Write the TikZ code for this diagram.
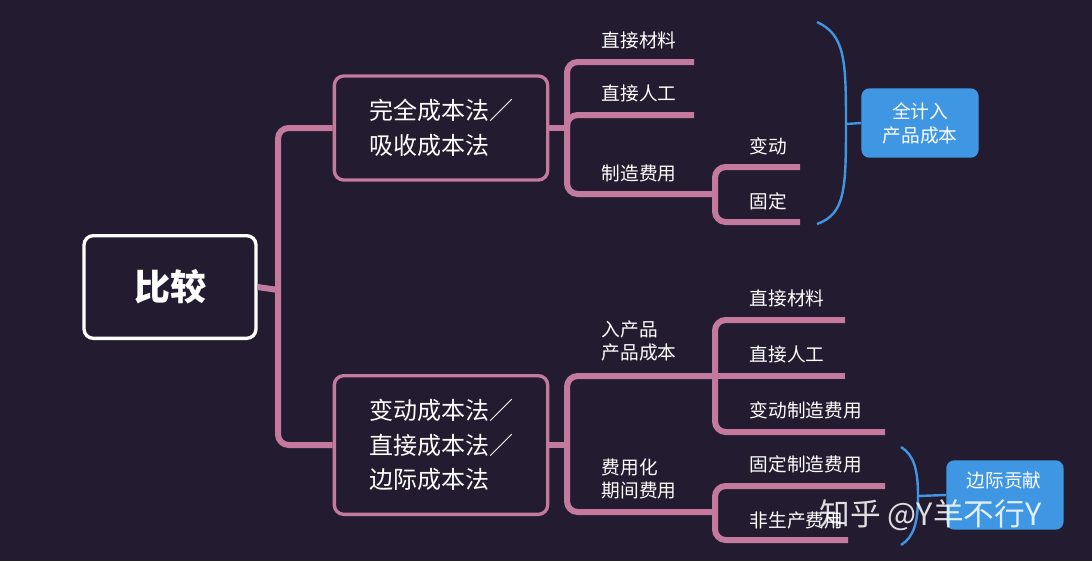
\documentclass[tikz,border=0pt]{standalone}
\usepackage{fontspec}
\setmainfont{Noto Sans CJK SC}
\usetikzlibrary{positioning}
\definecolor{bg}{HTML}{231C30}
\definecolor{pk}{HTML}{C47A9E}
\definecolor{bl}{HTML}{3F97E3}
\tikzset{
 br/.style={draw=pk,line width=4.5pt,rounded corners=8pt},
 lbl/.style={text=white,font=\fontsize{14}{17}\selectfont,anchor=west,align=left},
 mbox/.style={draw=pk,line width=2.5pt,rounded corners=7pt,text=white,font=\fontsize{18}{26}\selectfont,align=left,minimum width=160pt},
 bbox/.style={fill=bl,rounded corners=6pt,text=white,font=\fontsize{14}{18}\selectfont,align=center},
 brace/.style={draw=bl,line width=1.8pt},
}
\begin{document}
\begin{tikzpicture}[x=0.75pt,y=-0.75pt]
\fill[bg] (0,0) rectangle (1092,561);
\useasboundingbox (0,0) rectangle (1092,561);
% root
\node[draw=white,line width=2.5pt,rounded corners=7pt,minimum width=129pt,minimum height=77pt,text=white,font=\fontsize{27}{30}\selectfont\bfseries] (root) at (170,287) {比较};
\node[mbox,minimum height=78pt] (b1) at (441,128) {完全成本法／\\吸收成本法};
\node[mbox,minimum height=104pt] (b2) at (441,445) {变动成本法／\\直接成本法／\\边际成本法};
\coordinate (j0) at (278,290);
\draw[br] (root.east) -- (j0);
\draw[br] (b1.west) -| (j0) |- (b2.west);
% branch 1
\coordinate (j1) at (567,128);
\coordinate (e11) at (694,62);
\coordinate (e12) at (694,115);
\coordinate (e13) at (715,194);
\draw[br] (b1.east) -- (j1);
\draw[br] (e11) -| (j1) |- (e13);
\draw[br] (j1) |- (e12);
\node[lbl] (t11) at (597,40) {直接材料};
\node[lbl] (t12) at (597,93) {直接人工};
\node[lbl] (t13) at (597,173) {制造费用};
\coordinate (e131) at (800,167);
\coordinate (e132) at (800,222);
\draw[br] (e131) -| (e13) |- (e132);
\node[lbl] (t131) at (745,146) {变动};
\node[lbl] (t132) at (745,201) {固定};
\draw[brace] (817,22) .. controls (845,35) and (846,60) .. (846,124) .. controls (846,190) and (845,214) .. (817,224);
\coordinate (k1) at (846,124);
\node[bbox,minimum width=88pt,minimum height=52pt] (bb1) at (920,123) {全计入\\产品成本};
\draw[brace] (k1) -- (bb1.west);
% branch 2
\coordinate (j2) at (567,445);
\coordinate (e21) at (715,376);
\coordinate (e22) at (715,512);
\draw[br] (b2.east) -- (j2);
\draw[br] (e21) -| (j2) |- (e22);
\node[lbl] (t21) at (597,341) {入产品\\产品成本};
\node[lbl] (t22) at (597,479) {费用化\\期间费用};
\coordinate (f1) at (845,320);
\coordinate (f2) at (845,376);
\coordinate (f3) at (885,432);
\draw[br] (f1) -| (e21) |- (f3);
\draw[br] (e21) -- (f2);
\node[lbl] (u1) at (745,298) {直接材料};
\node[lbl] (u2) at (745,354) {直接人工};
\node[lbl] (u3) at (745,410) {变动制造费用};
\coordinate (g1) at (885,486);
\coordinate (g2) at (848,540);
\draw[br] (g1) -| (e22) |- (g2);
\node[lbl] (v1) at (745,464) {固定制造费用};
\node[lbl] (v2) at (745,520) {非生产费用};
\draw[brace] (901,447) .. controls (914,455) and (918,470) .. (918,496) .. controls (918,522) and (914,537) .. (901,545);
\coordinate (k2) at (918,496);
\node[bbox,minimum width=88pt,minimum height=52pt,anchor=west] (bb2) at (946,495) {};
\node[text=white,font=\fontsize{14}{18}\selectfont] (bb2t) at (1004,480) {边际贡献};
\draw[brace] (k2) -- (bb2.west);
\node[text=white,opacity=0.85,font=\fontsize{23}{26}\selectfont,anchor=west] (wm) at (815,515) {知乎 @Y羊不行Y};
\end{tikzpicture}
\end{document}
